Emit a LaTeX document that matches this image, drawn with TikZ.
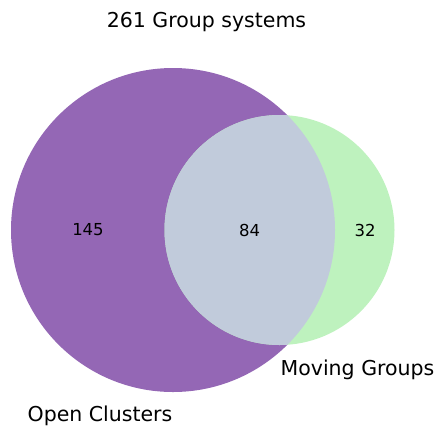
\documentclass[tikz,border=0pt]{standalone}
\usepackage{fontspec}
\setmainfont{DejaVu Sans}
\definecolor{ocpurple}{RGB}{148,103,181}
\definecolor{mggreen}{RGB}{190,242,190}
\definecolor{bothgrey}{RGB}{193,203,219}
\tikzset{
  setlabel/.style={font=\fontsize{20.5}{24}\selectfont, inner sep=0pt},
  countlabel/.style={font=\fontsize{16.5}{20}\selectfont, inner sep=0pt}
}
\begin{document}
\begin{tikzpicture}[x=1pt, y=-1pt]
  \useasboundingbox (0,0) rectangle (438,426);
  % the two sets
  \fill[ocpurple] (173,230) circle[radius=162];
  \fill[mggreen] (279.5,230) circle[radius=115];
  % overlap of the two sets
  \begin{scope}
    \clip (173,230) circle[radius=162];
    \fill[bothgrey] (279.5,230) circle[radius=115];
  \end{scope}
  % counts
  \node[countlabel] (onlyoc) at (88,230) {145};
  \node[countlabel] (both) at (249.5,230) {84};
  \node[countlabel] (onlymg) at (365,230) {32};
  % set names and title
  \node[setlabel] (octitle) at (100,416) {Open Clusters};
  \node[setlabel] (mgtitle) at (357.5,370) {Moving Groups};
  \node[setlabel] (title) at (206.5,22.5) {261 Group systems};
\end{tikzpicture}
\end{document}
